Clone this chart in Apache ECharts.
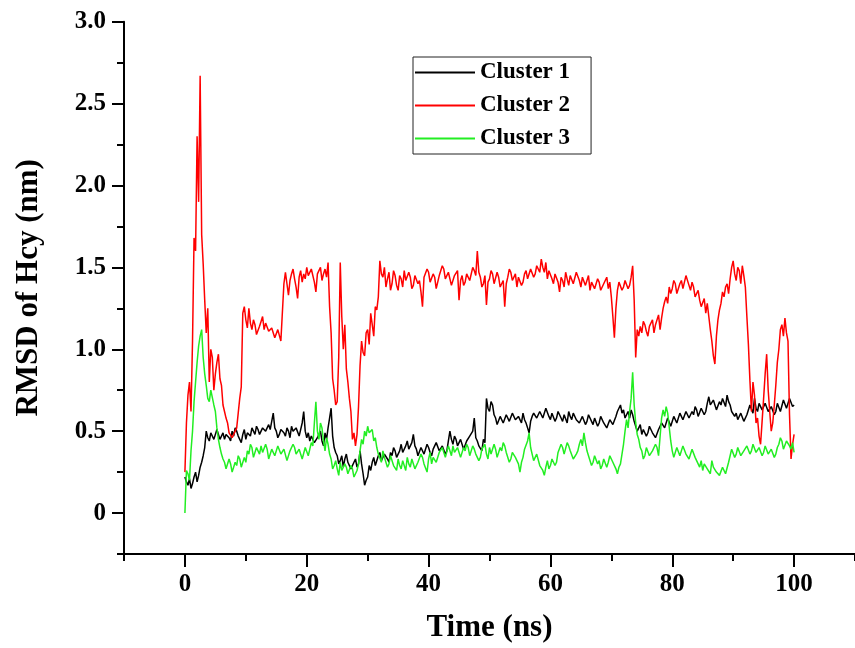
<!DOCTYPE html>
<html>
<head>
<meta charset="utf-8">
<script src="https://cdn.jsdelivr.net/npm/echarts@6/dist/echarts.min.js"></script>
<style>
html,body{margin:0;padding:0;background:#fff;}
#chart{width:855px;height:648px;}
</style>
</head>
<body>
<div id="chart"></div>
<script>
// Time step of the sampled trajectories (ns), starting at 0 ns
const timeStep = 0.25;

const seriesNames = ['Cluster 1', 'Cluster 2', 'Cluster 3'];

// Cluster 1 (black), one value every 0.25 ns from 0 to 100 ns (20 values per 5 ns row)
const cluster1 = [
  0.22,0.19,0.17,0.21,0.15,0.18,0.22,0.25,0.19,0.23,0.28,0.31,0.35,0.40,0.50,0.46,0.44,0.49,0.48,0.45,
  0.46,0.51,0.50,0.45,0.47,0.49,0.45,0.48,0.49,0.46,0.44,0.50,0.47,0.52,0.50,0.47,0.46,0.43,0.48,0.51,
  0.45,0.49,0.50,0.47,0.52,0.50,0.48,0.53,0.51,0.48,0.47,0.52,0.53,0.50,0.49,0.54,0.51,0.56,0.61,0.52,
  0.50,0.46,0.48,0.51,0.52,0.49,0.47,0.52,0.50,0.46,0.53,0.50,0.49,0.52,0.51,0.47,0.48,0.55,0.62,0.50,
  0.46,0.49,0.44,0.47,0.48,0.43,0.42,0.46,0.47,0.50,0.44,0.41,0.49,0.45,0.52,0.58,0.64,0.47,0.40,0.37,
  0.35,0.30,0.32,0.35,0.28,0.33,0.36,0.31,0.30,0.27,0.26,0.31,0.33,0.28,0.30,0.38,0.30,0.24,0.17,0.20,
  0.22,0.29,0.26,0.31,0.34,0.29,0.30,0.35,0.37,0.32,0.33,0.36,0.36,0.33,0.31,0.37,0.35,0.40,0.38,0.34,
  0.33,0.38,0.42,0.37,0.38,0.41,0.44,0.39,0.40,0.43,0.48,0.41,0.39,0.35,0.36,0.40,0.41,0.36,0.37,0.42,
  0.40,0.37,0.35,0.39,0.39,0.43,0.42,0.38,0.37,0.41,0.40,0.36,0.38,0.44,0.50,0.45,0.42,0.47,0.45,0.41,
  0.41,0.45,0.44,0.39,0.40,0.44,0.43,0.47,0.46,0.50,0.58,0.46,0.44,0.41,0.40,0.38,0.45,0.43,0.70,0.64,
  0.62,0.68,0.66,0.60,0.58,0.54,0.55,0.59,0.58,0.55,0.56,0.60,0.59,0.56,0.57,0.61,0.60,0.57,0.56,0.59,
  0.58,0.55,0.61,0.57,0.55,0.52,0.49,0.56,0.59,0.61,0.62,0.58,0.58,0.62,0.61,0.58,0.59,0.64,0.63,0.59,
  0.57,0.61,0.60,0.56,0.58,0.62,0.61,0.58,0.56,0.60,0.59,0.55,0.62,0.59,0.57,0.61,0.60,0.57,0.58,0.55,
  0.55,0.59,0.58,0.54,0.56,0.60,0.59,0.56,0.54,0.58,0.57,0.53,0.55,0.59,0.58,0.55,0.56,0.52,0.53,0.57,
  0.57,0.54,0.55,0.59,0.62,0.64,0.66,0.61,0.63,0.58,0.60,0.62,0.58,0.63,0.60,0.56,0.55,0.50,0.51,0.54,
  0.48,0.51,0.52,0.47,0.49,0.53,0.53,0.49,0.50,0.46,0.47,0.51,0.52,0.55,0.56,0.52,0.53,0.58,0.57,0.53,
  0.54,0.59,0.58,0.55,0.56,0.61,0.60,0.57,0.57,0.62,0.61,0.58,0.58,0.62,0.60,0.65,0.63,0.59,0.60,0.64,
  0.64,0.60,0.62,0.67,0.71,0.66,0.65,0.69,0.68,0.63,0.64,0.68,0.66,0.70,0.69,0.65,0.72,0.68,0.66,0.62,
  0.63,0.59,0.61,0.57,0.58,0.61,0.60,0.56,0.57,0.60,0.59,0.66,0.65,0.61,0.70,0.64,0.62,0.67,0.68,0.63,
  0.63,0.67,0.66,0.62,0.61,0.65,0.64,0.60,0.62,0.67,0.66,0.62,0.63,0.69,0.68,0.64,0.64,0.70,0.69,0.65,
  0.66
];

// Cluster 2 (red)
const cluster2 = [
  0.25,0.55,0.72,0.80,0.62,1.05,1.68,1.60,2.30,1.90,2.67,1.70,1.52,1.30,1.10,1.25,0.80,1.00,0.95,0.75,
  0.85,0.92,0.97,0.82,0.78,0.66,0.62,0.58,0.55,0.49,0.50,0.46,0.47,0.50,0.52,0.61,0.70,0.77,1.22,1.26,
  1.18,1.13,1.25,1.16,1.12,1.18,1.15,1.09,1.10,1.14,1.17,1.20,1.12,1.16,1.15,1.11,1.10,1.13,1.14,1.07,
  1.08,1.12,1.11,1.05,1.06,1.40,1.47,1.40,1.33,1.42,1.46,1.49,1.43,1.38,1.31,1.44,1.48,1.41,1.46,1.43,
  1.50,1.45,1.44,1.49,1.48,1.41,1.35,1.46,1.47,1.50,1.42,1.46,1.49,1.44,1.53,1.26,1.10,0.82,0.75,0.66,
  0.68,0.95,1.53,1.20,1.00,1.15,0.88,0.80,0.70,0.62,0.45,0.49,0.41,0.48,0.65,0.90,1.05,0.98,0.96,1.10,
  1.12,1.03,1.22,1.15,1.08,1.26,1.24,1.32,1.54,1.46,1.44,1.50,1.38,1.43,1.47,1.36,1.40,1.48,1.45,1.39,
  1.36,1.45,1.43,1.38,1.48,1.42,1.41,1.47,1.44,1.37,1.39,1.45,1.46,1.40,1.42,1.35,1.26,1.44,1.43,1.49,
  1.47,1.41,1.40,1.46,1.44,1.37,1.38,1.45,1.45,1.51,1.49,1.43,1.42,1.47,1.46,1.39,1.40,1.45,1.44,1.48,
  1.30,1.42,1.45,1.39,1.41,1.46,1.47,1.42,1.43,1.50,1.48,1.45,1.60,1.47,1.44,1.38,1.40,1.45,1.27,1.41,
  1.43,1.48,1.46,1.40,1.41,1.47,1.44,1.38,1.39,1.42,1.26,1.40,1.44,1.49,1.47,1.42,1.42,1.46,1.38,1.44,
  1.45,1.39,1.41,1.46,1.48,1.43,1.44,1.49,1.50,1.44,1.46,1.51,1.52,1.47,1.55,1.50,1.47,1.53,1.43,1.48,
  1.49,1.43,1.40,1.46,1.45,1.41,1.35,1.44,1.42,1.38,1.47,1.43,1.39,1.45,1.44,1.40,1.41,1.47,1.46,1.42,
  1.38,1.44,1.43,1.39,1.40,1.45,1.36,1.41,1.42,1.37,1.38,1.43,1.41,1.36,1.35,1.40,1.39,1.44,1.37,1.41,
  1.32,1.20,1.07,1.25,1.36,1.41,1.40,1.36,1.38,1.42,1.43,1.37,1.39,1.44,1.51,1.30,0.95,1.12,1.08,1.14,
  1.10,1.17,1.15,1.11,1.08,1.14,1.13,1.18,1.10,1.15,1.16,1.21,1.12,1.19,1.25,1.29,1.32,1.28,1.38,1.34,
  1.37,1.42,1.40,1.34,1.35,1.40,1.42,1.37,1.38,1.45,1.44,1.39,1.36,1.41,1.38,1.32,1.33,1.36,1.30,1.26,
  1.27,1.31,1.22,1.28,1.20,1.12,1.05,0.96,0.91,1.08,1.18,1.24,1.28,1.35,1.32,1.38,1.40,1.34,1.43,1.50,
  1.54,1.46,1.42,1.50,1.48,1.40,1.51,1.45,1.38,1.20,1.03,0.81,0.62,0.80,0.72,0.55,0.58,0.47,0.42,0.56,
  0.70,0.85,0.97,0.75,0.62,0.50,0.55,0.66,0.78,0.92,1.00,1.12,1.15,1.08,1.19,1.10,1.05,0.60,0.33,0.42,
  0.48
];

// Cluster 3 (green)
const cluster3 = [
  0.00,0.26,0.24,0.20,0.38,0.50,0.68,0.80,0.92,1.02,1.08,1.12,0.95,0.85,0.78,0.70,0.68,0.75,0.74,0.66,
  0.62,0.52,0.45,0.40,0.36,0.33,0.31,0.27,0.26,0.33,0.30,0.25,0.24,0.31,0.29,0.35,0.33,0.28,0.27,0.34,
  0.31,0.38,0.36,0.42,0.40,0.34,0.35,0.40,0.38,0.36,0.41,0.37,0.36,0.42,0.39,0.33,0.34,0.39,0.38,0.35,
  0.36,0.41,0.40,0.36,0.35,0.39,0.38,0.32,0.33,0.38,0.37,0.42,0.40,0.36,0.35,0.39,0.38,0.33,0.34,0.40,
  0.39,0.35,0.36,0.43,0.41,0.55,0.68,0.50,0.45,0.55,0.52,0.44,0.38,0.46,0.42,0.36,0.33,0.27,0.29,0.32,
  0.27,0.23,0.31,0.26,0.25,0.30,0.28,0.24,0.23,0.29,0.27,0.22,0.22,0.26,0.30,0.38,0.45,0.42,0.50,0.47,
  0.53,0.49,0.48,0.51,0.44,0.46,0.40,0.36,0.36,0.31,0.38,0.34,0.33,0.28,0.30,0.35,0.35,0.29,0.29,0.26,
  0.33,0.29,0.27,0.32,0.31,0.26,0.34,0.30,0.28,0.33,0.32,0.27,0.26,0.31,0.30,0.36,0.34,0.30,0.29,0.25,
  0.33,0.37,0.30,0.34,0.35,0.31,0.31,0.37,0.36,0.40,0.39,0.34,0.35,0.41,0.38,0.35,0.41,0.37,0.36,0.40,
  0.39,0.34,0.35,0.40,0.38,0.42,0.40,0.35,0.36,0.41,0.39,0.36,0.37,0.32,0.34,0.39,0.38,0.42,0.36,0.33,
  0.40,0.36,0.37,0.42,0.39,0.34,0.35,0.40,0.38,0.43,0.41,0.37,0.36,0.31,0.33,0.37,0.38,0.34,0.35,0.30,
  0.25,0.31,0.34,0.39,0.38,0.44,0.49,0.40,0.36,0.32,0.31,0.36,0.35,0.29,0.30,0.26,0.23,0.28,0.32,0.27,
  0.29,0.33,0.34,0.29,0.31,0.37,0.36,0.42,0.40,0.36,0.35,0.43,0.41,0.38,0.37,0.33,0.32,0.36,0.38,0.42,
  0.45,0.41,0.49,0.43,0.38,0.35,0.34,0.29,0.31,0.35,0.36,0.30,0.32,0.27,0.29,0.33,0.34,0.28,0.31,0.35,
  0.35,0.31,0.30,0.27,0.24,0.28,0.30,0.36,0.42,0.50,0.57,0.52,0.62,0.70,0.86,0.66,0.55,0.48,0.45,0.40,
  0.38,0.33,0.35,0.40,0.39,0.35,0.34,0.38,0.37,0.42,0.40,0.35,0.36,0.58,0.63,0.59,0.65,0.61,0.60,0.44,
  0.38,0.34,0.35,0.40,0.39,0.35,0.36,0.41,0.40,0.36,0.37,0.33,0.34,0.39,0.38,0.34,0.33,0.30,0.28,0.32,
  0.26,0.30,0.31,0.27,0.27,0.24,0.32,0.28,0.29,0.25,0.26,0.23,0.24,0.28,0.27,0.24,0.25,0.31,0.35,0.39,
  0.38,0.34,0.36,0.40,0.39,0.35,0.35,0.38,0.37,0.41,0.40,0.36,0.38,0.42,0.41,0.37,0.36,0.40,0.39,0.35,
  0.37,0.41,0.40,0.36,0.35,0.39,0.38,0.34,0.36,0.40,0.42,0.46,0.44,0.39,0.40,0.44,0.45,0.41,0.39,0.43,
  0.37
];

// Axis ticks
const xMajorTicks = [0, 20, 40, 60, 80, 100];
const xMinorTicks = [-10, 10, 30, 50, 70, 90, 110];
const yMajorTicks = [0, 0.5, 1.0, 1.5, 2.0, 2.5, 3.0];
const yMinorTicks = [-0.25, 0.25, 0.75, 1.25, 1.75, 2.25, 2.75];

const FONT = "'Liberation Serif', 'Times New Roman', serif";

if (cluster1.length !== 401 || cluster2.length !== 401 || cluster3.length !== 401) {
  throw new Error('length mismatch ' + cluster1.length + ' ' + cluster2.length + ' ' + cluster3.length);
}

function toPairs(vals) {
  return vals.map((v, i) => [i * timeStep, v]);
}

const chart = echarts.init(document.getElementById('chart'), null, {renderer: 'canvas'});

const axisLineStyle = {color: '#000', width: 2};

const option = {
  backgroundColor: '#fff',
  animation: false,
  grid: {left: 124, right: 0, top: 21.7, bottom: 90.3, containLabel: false},
  legend: {
    orient: 'vertical',
    left: 413,
    top: 57,
    padding: [4, 21, 4, 2],
    itemGap: 10,
    itemWidth: 60,
    itemHeight: 2,
    icon: 'rect',
    borderColor: '#222',
    borderWidth: 1,
    textStyle: {fontFamily: FONT, fontWeight: 'bold', fontSize: 23, color: '#000'},
    data: seriesNames
  },
  xAxis: [
    {
      type: 'value', min: -10, max: 110, position: 'bottom',
      name: 'Time (ns)', nameLocation: 'middle', nameGap: 58,
      nameTextStyle: {fontFamily: FONT, fontWeight: 'bold', fontSize: 31, color: '#000'},
      axisLine: {show: true, onZero: false, lineStyle: axisLineStyle},
      axisTick: {show: true, customValues: xMajorTicks, length: 13, lineStyle: {color: '#000', width: 2}},
      axisLabel: {customValues: xMajorTicks, margin: 18, fontFamily: FONT, fontWeight: 'bold', fontSize: 25, color: '#000',
        formatter: v => String(v)},
      splitLine: {show: false}
    },
    {
      type: 'value', min: -10, max: 110, position: 'bottom',
      axisLine: {show: false, onZero: false},
      axisTick: {show: true, customValues: xMinorTicks, length: 7, lineStyle: {color: '#000', width: 2}},
      axisLabel: {show: false},
      splitLine: {show: false}
    }
  ],
  yAxis: [
    {
      type: 'value', min: -0.25, max: 3.0, position: 'left',
      name: 'RMSD of Hcy (nm)', nameLocation: 'middle', nameGap: 80,
      nameTextStyle: {fontFamily: FONT, fontWeight: 'bold', fontSize: 31, color: '#000'},
      axisLine: {show: true, onZero: false, lineStyle: axisLineStyle},
      axisTick: {show: true, customValues: yMajorTicks, length: 12, lineStyle: {color: '#000', width: 2}},
      axisLabel: {customValues: yMajorTicks, margin: 18, fontFamily: FONT, fontWeight: 'bold', fontSize: 25, color: '#000',
        formatter: v => (v === 0 ? '0' : v.toFixed(1))},
      splitLine: {show: false}
    },
    {
      type: 'value', min: -0.25, max: 3.0, position: 'left',
      axisLine: {show: false, onZero: false},
      axisTick: {show: true, customValues: yMinorTicks, length: 7, lineStyle: {color: '#000', width: 2}},
      axisLabel: {show: false},
      splitLine: {show: false}
    }
  ],
  series: [
    {name: seriesNames[0], type: 'line', data: toPairs(cluster1), showSymbol: false, symbol: 'none',
      lineStyle: {color: '#000000', width: 1.5}, itemStyle: {color: '#000000'}, z: 2},
    {name: seriesNames[1], type: 'line', data: toPairs(cluster2), showSymbol: false, symbol: 'none',
      lineStyle: {color: '#ff0000', width: 1.5}, itemStyle: {color: '#ff0000'}, z: 3},
    {name: seriesNames[2], type: 'line', data: toPairs(cluster3), showSymbol: false, symbol: 'none',
      lineStyle: {color: '#22ee22', width: 1.5}, itemStyle: {color: '#22ee22'}, z: 4}
  ]
};

chart.setOption(option);
</script>
</body>
</html>
